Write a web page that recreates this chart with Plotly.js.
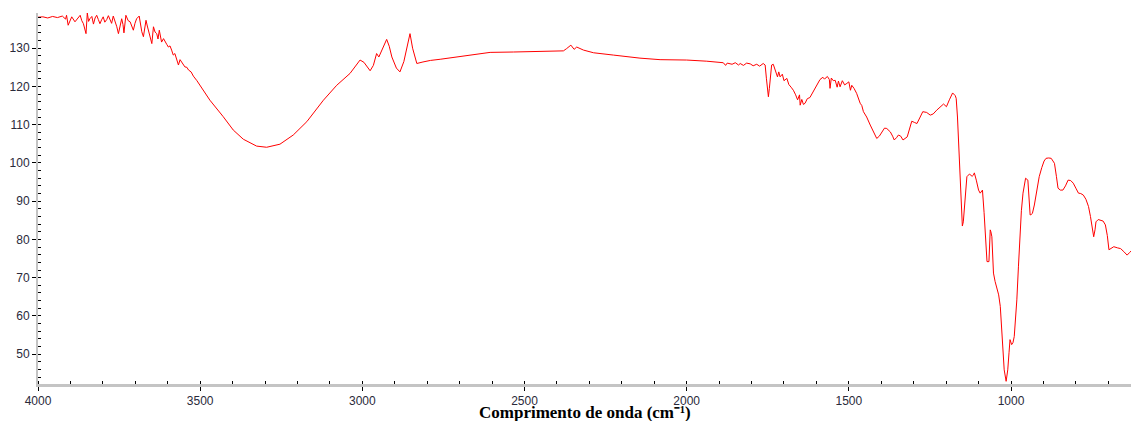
<!DOCTYPE html>
<html>
<head>
<meta charset="utf-8">
<script src="https://cdn.plot.ly/plotly-3.0.1.min.js"></script>
<style>html,body{margin:0;padding:0;background:#fff;}#chart{width:1131px;height:421px;}</style>
</head>
<body>
<div id="chart"></div>
<script>
const wavenumber = [
4000,3985,3970,3955,3940,3925,3915,3912,3907,3900,3896,3886,3878,3870,3865,3860,3852,3848,3844,3840,
3834,3829,3824,3819,3814,3809,3804,3799,3794,3788,3783,3778,3773,3768,3762,3757,3752,3747,3742,3738,
3735,3729,3722,3716,3711,3706,3701,3696,3688,3684,3680,3675,3671,3667,3663,3660,3655,3649,3644,3639,
3634,3630,3626,3622,3619,3613,3608,3603,3598,3593,3588,3583,3578,3572,3567,3562,3557,3552,3547,3541,
3536,3528,3521,3510,3500,3470,3429,3398,3367,3326,3295,3254,3213,3171,3120,3079,3038,3020,3007,2995,
2976,2966,2956,2949,2940,2925,2917,2909,2895,2884,2872,2862,2853,2845,2832,2813,2790,2760,2719,2658,
2606,2534,2462,2380,2370,2357,2347,2339,2318,2287,2226,2144,2082,2000,1938,1900,1887,1880,1875,1860,
1850,1840,1835,1825,1815,1804,1795,1784,1775,1764,1758,1754,1750,1748,1745,1741,1738,1733,1725,1720,
1716,1712,1705,1700,1691,1685,1678,1671,1664,1658,1652,1650,1645,1640,1635,1628,1620,1605,1589,1580,
1575,1573,1566,1560,1558,1554,1548,1542,1536,1532,1527,1520,1513,1506,1500,1495,1491,1484,1476,1465,
1460,1455,1445,1434,1425,1414,1406,1398,1390,1383,1372,1365,1360,1353,1347,1340,1333,1320,1313,1306,
1298,1290,1280,1272,1260,1249,1240,1229,1208,1199,1190,1180,1172,1169,1165,1162,1159,1157,1153,1150,
1147,1142,1136,1128,1120,1116,1113,1107,1100,1095,1088,1083,1079,1074,1068,1064,1062,1059,1054,1049,
1043,1038,1033,1028,1024,1021,1015,1010,1006,1003,998,994,990,986,982,977,973,968,963,955,
948,944,941,938,934,928,923,918,913,905,898,892,884,876,866,860,855,848,840,832,
824,816,808,800,792,785,777,769,761,755,751,745,741,738,731,724,716,709,703,698,
692,683,672,662,652,642,634,626
];
const transmittance = [
138.1,138.2,137.9,138.3,138.0,138.4,137.6,138.6,136.0,137.5,138.2,136.9,137.8,138.6,137.2,136.4,133.8,139.2,137.0,137.7,
138.3,136.3,137.9,138.6,137.5,136.4,137.4,138.2,136.8,137.5,138.5,137.2,136.5,138.4,137.0,135.6,133.8,136.0,137.7,136.2,
134.0,138.6,137.2,136.9,135.5,134.7,136.5,137.7,138.4,136.2,134.3,133.0,135.5,137.3,135.8,134.7,133.0,131.2,135.6,134.2,
133.8,132.4,134.7,132.8,131.6,132.5,131.6,131.0,130.3,130.6,129.5,128.2,128.6,127.0,125.6,127.0,126.4,126.0,125.1,125.0,
124.3,123.8,122.7,121.5,120.2,116.4,112.1,108.6,106.2,104.4,104.1,104.9,107.3,110.8,116.4,120.3,123.4,125.5,126.9,126.3,
124.1,125.5,128.6,127.7,129.5,132.3,130.5,127.7,124.8,123.8,126.5,130.5,133.8,130.0,126.0,126.4,126.8,127.1,127.6,128.4,
128.9,129.0,129.1,129.3,129.9,130.8,129.7,130.3,129.5,128.8,128.2,127.4,127.0,126.9,126.6,126.4,126.2,125.5,126.1,125.8,
126.2,125.6,126.0,125.5,126.1,125.9,125.4,125.8,125.3,126.0,125.6,122.0,118.5,117.3,119.5,124.0,125.6,125.8,124.0,122.5,
123.8,122.5,123.2,121.5,122.1,120.5,119.8,119.0,117.8,116.5,117.8,115.1,116.6,115.3,115.6,116.8,117.1,119.5,121.8,122.4,
121.9,122.1,122.6,121.8,119.5,122.2,121.5,121.6,119.8,121.4,119.9,121.5,120.4,120.8,121.2,119.0,120.3,119.5,118.2,115.6,
115.0,113.4,112.0,109.9,108.4,106.4,107.0,108.1,109.1,109.0,108.1,107.0,106.0,106.6,107.3,107.0,106.0,106.8,108.8,110.9,
110.6,110.3,112.0,113.4,113.2,112.5,112.8,113.8,115.4,114.7,116.5,118.3,117.6,116.9,112.0,106.0,100.8,96.4,88.0,83.5,
84.6,91.0,96.4,97.1,96.5,96.8,97.4,95.5,92.9,92.1,92.9,87.0,81.6,74.2,74.2,82.5,82.0,80.7,71.2,69.0,
66.8,65.5,62.5,55.5,50.0,45.9,42.9,45.9,50.5,53.8,52.5,53.0,54.6,59.0,64.2,73.0,81.6,87.5,92.1,96.0,
95.5,90.5,86.4,86.5,86.8,89.0,91.2,94.0,96.4,98.8,100.5,101.2,101.3,101.2,99.9,96.5,93.4,92.9,92.9,94.0,
95.5,95.4,94.7,93.4,92.1,92.0,91.6,90.5,88.6,86.0,83.3,80.7,82.5,84.6,85.2,85.1,84.8,83.8,81.0,77.3,
77.6,78.1,77.8,77.6,76.8,75.9,76.6,77.3
];
const xTickVals = [4000,3500,3000,2500,2000,1500,1000];
const yTickVals = [50,60,70,80,90,100,110,120,130];
const xTitle = 'Comprimento de onda (cm\u207B\u00B9)';

const trace = {
  x: wavenumber, y: transmittance, type: 'scatter', mode: 'lines',
  line: {color: '#ff0000', width: 1}, hoverinfo: 'skip'
};
const tickFont = {family: 'Liberation Sans, Arial, sans-serif', size: 12, color: '#2a2a3a'};
const layout = {
  width: 1131, height: 421,
  margin: {l: 38, r: 0, t: 13, b: 37, pad: 0},
  paper_bgcolor: '#ffffff', plot_bgcolor: '#ffffff',
  showlegend: false,
  xaxis: {
    range: [4000, 630], tickvals: xTickVals, ticktext: xTickVals.map(String),
    showgrid: false, zeroline: false, automargin: false,
    showline: true, linecolor: '#c4c4c4', linewidth: 3,
    ticks: 'outside', ticklen: 4, tickwidth: 1, tickcolor: '#000',
    tickfont: tickFont,
    minor: {dtick: 100, tick0: 0, ticks: 'inside', ticklen: 3, tickwidth: 1, tickcolor: '#000', showgrid: false}
  },
  yaxis: {
    range: [42.2, 139.2], tickvals: yTickVals, ticktext: yTickVals.map(String),
    showgrid: false, zeroline: false, automargin: false,
    showline: true, linecolor: '#c4c4c4', linewidth: 2,
    ticks: 'outside', ticklen: 4, tickwidth: 1, tickcolor: '#000',
    tickfont: tickFont,
    minor: {dtick: 2, tick0: 0, ticks: 'inside', ticklen: 3, tickwidth: 1, tickcolor: '#000', showgrid: false}
  },
  annotations: [{
    text: '<b>' + xTitle + '</b>', xref: 'paper', yref: 'paper', x: 0.5, y: -0.077,
    xanchor: 'center', yanchor: 'middle', showarrow: false, borderpad: 0,
    font: {family: 'Liberation Serif, Times New Roman, serif', size: 17, color: '#000'}
  }]
};
Plotly.newPlot('chart', [trace], layout, {displayModeBar: false, staticPlot: true});
</script>
</body>
</html>
